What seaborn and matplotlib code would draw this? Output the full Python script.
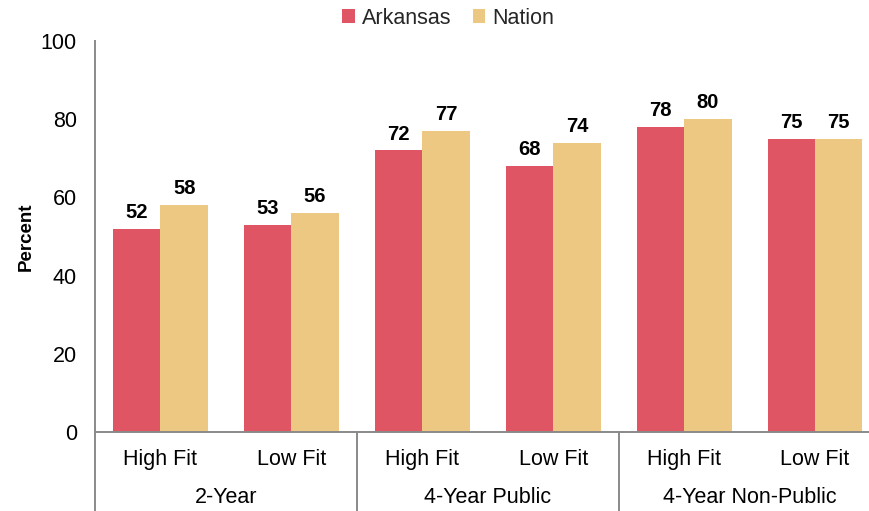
import matplotlib
matplotlib.use("Agg")
import matplotlib.pyplot as plt
import seaborn as sns
import pandas as pd

groups = ["2-Year", "2-Year", "4-Year Public", "4-Year Public", "4-Year Non-Public", "4-Year Non-Public"]
fits = ["High Fit", "Low Fit", "High Fit", "Low Fit", "High Fit", "Low Fit"]
arkansas = [52, 53, 72, 68, 78, 75]
nation = [58, 56, 77, 74, 80, 75]
series = ["Arkansas", "Nation"]
colors = ["#E05563", "#ECC883"]
group_names = ["2-Year", "4-Year Public", "4-Year Non-Public"]

keys = [f"{g}|{f}" for g, f in zip(groups, fits)]
df = pd.DataFrame({
    "key": keys * 2,
    "value": arkansas + nation,
    "series": [series[0]] * 6 + [series[1]] * 6,
})

sns.set_theme(style="white")
plt.rcParams["font.family"] = ["Liberation Sans", "DejaVu Sans"]

W, H = 869, 511
fig = plt.figure(figsize=(W / 100, H / 100), dpi=100)
left, right, top, bottom = 95, 880.5, 41, 432
ax = fig.add_axes([left / W, (H - bottom) / H, (right - left) / W, (bottom - top) / H])

sns.barplot(data=df, x="key", y="value", hue="series", order=keys,
            hue_order=series, palette=colors, width=0.725, saturation=1,
            ax=ax, legend=False, errorbar=None, linewidth=0)

for c in ax.containers:
    ax.bar_label(c, fmt="%d", padding=5, fontsize=14.5, fontweight="bold", color="black")

ax.set_ylim(0, 100)
ax.set_xlim(-0.5, 5.5)
ax.set_yticks(range(0, 101, 20))
ax.tick_params(axis="y", labelsize=15.5, length=0, pad=13, colors="black")
ax.tick_params(axis="x", labelsize=15.5, length=0, pad=12, colors="black")
ax.set_xticks(range(6))
ax.set_xticklabels(fits)
ax.set_xlabel("")
ax.set_ylabel("Percent", fontsize=13.5, fontweight="bold", color="black")
ax.yaxis.set_label_coords((35 - left) / (right - left), 0.5)

for s in ["top", "right"]:
    ax.spines[s].set_visible(False)
for s in ["left", "bottom"]:
    ax.spines[s].set_color("#8a8a8a")
    ax.spines[s].set_linewidth(1.4)

from matplotlib.transforms import blended_transform_factory
trans = blended_transform_factory(ax.transData, fig.transFigure)
for xs in [-0.5, 1.5, 3.5, 5.5]:
    ax.plot([xs, xs], [(H - bottom) / H, 0], transform=trans, color="#8a8a8a",
            lw=1.4, clip_on=False)
for i, g in enumerate(group_names):
    ax.text(2 * i + 0.5, (H - 497) / H, g, transform=trans, ha="center", va="center",
            fontsize=15.5, color="black")

from matplotlib.patches import Patch
handles = [Patch(facecolor=c, edgecolor="none") for c in colors]
fig.legend(handles, series, loc="center", bbox_to_anchor=(448 / W, (H - 18) / H),
           ncol=2, frameon=False, fontsize=15.5, handlelength=0.6, handleheight=0.6,
           handletextpad=0.3, columnspacing=1.0)

fig.savefig("out.png", dpi=100)
